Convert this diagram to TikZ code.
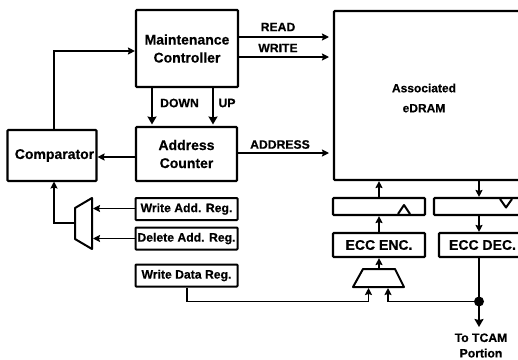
\documentclass[tikz,border=0pt]{standalone}
\usepackage{fontspec}
\setmainfont[BoldFeatures={FakeBold=0.5}]{Liberation Sans}
\usetikzlibrary{arrows.meta,calc}
\newcommand\dnline[1]{\raisebox{-1.5pt}{#1}}
\tikzset{
  blk/.style={draw,line width=2.1pt,rounded corners=0.8pt,inner sep=0pt,align=center,font=\bfseries\fontsize{14}{18}\selectfont},
  reg/.style={blk,line width=2pt,minimum width=102pt,minimum height=22pt,font=\bfseries\fontsize{12.2}{14}\selectfont},
  lab/.style={inner sep=0pt,font=\bfseries\fontsize{12.2}{14}\selectfont},
  wire/.style={line width=1.9pt},
  arr/.style={wire,-{Stealth[length=7pt,width=7pt,inset=1pt]}},
  thickarr/.style={line width=2.6pt,-{Stealth[length=8pt,width=9pt,inset=1pt]}},
  shp/.style={draw,line width=2pt,line join=round},
}
\begin{document}
\begin{tikzpicture}[x=1pt,y=-1pt]
\useasboundingbox (0,0) rectangle (518,359);
\clip (0,0) rectangle (518,359);
% blocks
\node[blk,minimum width=102pt,minimum height=77pt] (mc) at (187,48.5) {\dnline{Maintenance}\\\dnline{Controller}};
\node[blk,minimum width=101pt,minimum height=54pt] (ac) at (186.5,154) {\dnline{Address}\\\dnline{Counter}};
\node[blk,minimum width=89pt,minimum height=51pt] (cmp) at (52,155.5) {\hspace*{5pt}Comparator};
\node[blk,minimum width=240pt,minimum height=169pt] (ram) at (454,95.5) {};
\node[inner sep=0pt,align=center,font=\bfseries\fontsize{12}{20}\selectfont] (ramt) at (424,98) {Associated\\eDRAM};
\node[reg] (war) at (186.5,209) {Write Add. Reg.};
\node[reg] (dar) at (186.5,238.5) {Delete Add. Reg.};
\node[reg] (wdr) at (186.5,275.5) {Write Data Reg.};
\node[blk,minimum width=92pt,minimum height=17pt] (rl) at (379,206.5) {};
\node[blk,minimum width=120pt,minimum height=17pt] (rr) at (494,206.5) {};
\node[blk,minimum width=92pt,minimum height=24pt] (enc) at (379,245) {ECC ENC.};
\node[blk,minimum width=100pt,minimum height=24pt] (dec) at (489,245) {\hspace*{-13pt}ECC DEC.};
% register triangles
\draw[shp] (398,214) -- (404,205) -- (410,214);
\draw[shp] (500,199) -- (506,207.5) -- (512,199);
% muxes
\draw[shp] (75,208) -- (92,198) -- (92,249) -- (75,239) -- cycle;
\draw[shp] (353,287) -- (363,269) -- (395,269) -- (404,287) -- cycle;
\coordinate (mo) at (75,223);
\coordinate (ma) at (93,208.5);
\coordinate (mb) at (93,238.5);
\coordinate (e1) at (368.5,288);
\coordinate (e2) at (388,288);
\coordinate (eo) at (379,269);
\coordinate (bus) at (479,301.5);
\coordinate (tip) at (479,327);
\coordinate (read) at (329,37);
\coordinate (write) at (329,57);
\coordinate (addr) at (329,153);
% connectors
\draw[arr,line width=2.1pt] (read -| mc.east) -- (read);
\draw[arr,line width=1.5pt] (write -| mc.east) -- (write);
\draw[arr] (addr -| ac.east) -- (addr);
\draw[thickarr] (152,87) -- (152,124.5);
\draw[thickarr] (213,87) -- (213,124.5);
\draw[arr,line width=2.1pt] (ac.west |- cmp.center) ++(0,1.5) -- ($(cmp.east)+(0,1.5)$);
\draw[arr,line width=2pt] (54,130) -- (54,51) -- (mc.west |- 0,51);
\draw[arr,line width=2.1pt] (mo) -- (54,223) -- (54,181.5);
\draw[arr] (war.west |- ma) -- (ma);
\draw[arr] (dar.west |- mb) -- (mb);
\draw[arr] (wdr.south -| 187,0) -- (187,301.5) -- (368.5,301.5) -- (e1);
\draw[arr] (bus) -- (388,301.5) -- (e2);
\draw[arr] (eo) -- (enc.south -| eo);
\draw[arr] (enc.north -| eo) -- (rl.south -| eo);
\draw[arr] (rl.north -| eo) -- (ram.south -| eo);
\draw[arr] (ram.south -| bus) -- (rr.north -| bus);
\draw[arr] (rr.south -| bus) -- (dec.north -| bus);
\draw[wire] (dec.south -| bus) -- (bus);
\draw[thickarr,line width=2.1pt] (bus) -- (tip);
\fill (bus) circle (5pt);
% labels
\node[lab] (lread) at (278,27) {READ};
\node[lab] (lwrite) at (278,48) {WRITE};
\node[lab] (laddr) at (280,144.5) {ADDRESS};
\node[lab] (ldown) at (179.5,103) {DOWN};
\node[lab] (lup) at (227,103) {UP};
\node[lab,align=center,font=\bfseries\fontsize{12.2}{15.5}\selectfont] (ltcam) at (481,345.5) {To TCAM\\Portion};
\end{tikzpicture}
\end{document}
